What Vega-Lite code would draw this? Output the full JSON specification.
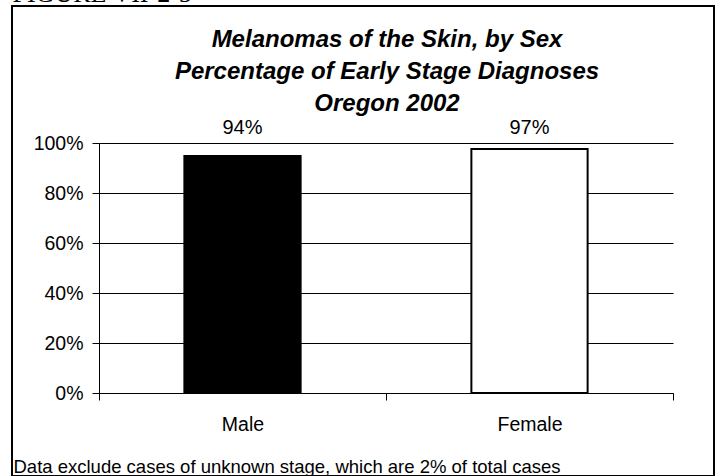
{
  "$schema": "https://vega.github.io/schema/vega-lite/v6.json",
  "autosize": "none",
  "width": 702,
  "height": 470,
  "padding": {"left": 12, "top": 6, "right": 6, "bottom": 0},
  "background": "white",
  "config": {
    "font": "Liberation Sans",
    "view": {"stroke": "black", "strokeWidth": 2, "fill": "white"}
  },
  "title": {
    "text": ["Melanomas of the Skin, by Sex", "Percentage of Early Stage Diagnoses", "Oregon 2002"],
    "font": "Liberation Sans",
    "fontSize": 24,
    "fontStyle": "italic",
    "fontWeight": "bold",
    "color": "black",
    "lineHeight": 32,
    "anchor": "middle",
    "frame": "group",
    "baseline": "top",
    "offset": 0,
    "dx": 24,
    "dy": 136
  },
  "data": {
    "values": [
      {"sex": "Male", "pct": 0.948, "label": "94%"},
      {"sex": "Female", "pct": 0.976, "label": "97%"}
    ]
  },
  "layer": [
    {
      "mark": {"type": "bar", "stroke": "black", "strokeWidth": 2, "width": {"band": 0.405}},
      "encoding": {
        "x": {
          "field": "sex",
          "type": "nominal",
          "sort": ["Male", "Female"],
          "scale": {"range": [87, 661], "paddingInner": 0, "paddingOuter": 0},
          "axis": {
            "orient": "bottom",
            "offset": -83,
            "labelAngle": 0,
            "labelFontSize": 19.5,
            "labelColor": "black",
            "labelPadding": 15,
            "tickBand": "extent",
            "tickColor": "black",
            "tickSize": 7,
            "domainColor": "black",
            "grid": false,
            "title": "Data exclude cases of unknown stage, which are 2% of total cases",
            "titleFont": "Liberation Sans",
            "titleFontSize": 18.5,
            "titleFontWeight": "normal",
            "titleColor": "black",
            "titleAlign": "left",
            "titleAnchor": null,
            "titleBaseline": "alphabetic",
            "titleX": 1,
            "titleY": 79
          }
        },
        "y": {
          "field": "pct",
          "type": "quantitative",
          "scale": {"domain": [0, 1], "range": [387, 137], "nice": false, "zero": true},
          "axis": {
            "orient": "left",
            "offset": -87,
            "values": [0, 0.2, 0.4, 0.6, 0.8, 1],
            "format": ".0%",
            "labelFontSize": 19.5,
            "labelColor": "black",
            "labelPadding": 9,
            "tickColor": "black",
            "tickSize": 7,
            "domainColor": "black",
            "grid": true,
            "gridColor": "black",
            "gridOpacity": 1,
            "title": "FIGURE VII-2-5",
            "titleFont": "Liberation Serif",
            "titleFontSize": 26,
            "titleFontWeight": "normal",
            "titleColor": "black",
            "titleAngle": 0,
            "titleAlign": "left",
            "titleAnchor": null,
            "titleBaseline": "alphabetic",
            "titleX": -87,
            "titleY": -5
          }
        },
        "fill": {
          "field": "sex",
          "type": "nominal",
          "scale": {"domain": ["Male", "Female"], "range": ["black", "white"]},
          "legend": null
        }
      }
    },
    {
      "mark": {"type": "text", "fontSize": 20, "color": "black", "baseline": "alphabetic", "dy": -9},
      "encoding": {
        "x": {"field": "sex", "type": "nominal", "sort": ["Male", "Female"]},
        "y": {"datum": 1, "type": "quantitative"},
        "text": {"field": "label"}
      }
    }
  ]
}
